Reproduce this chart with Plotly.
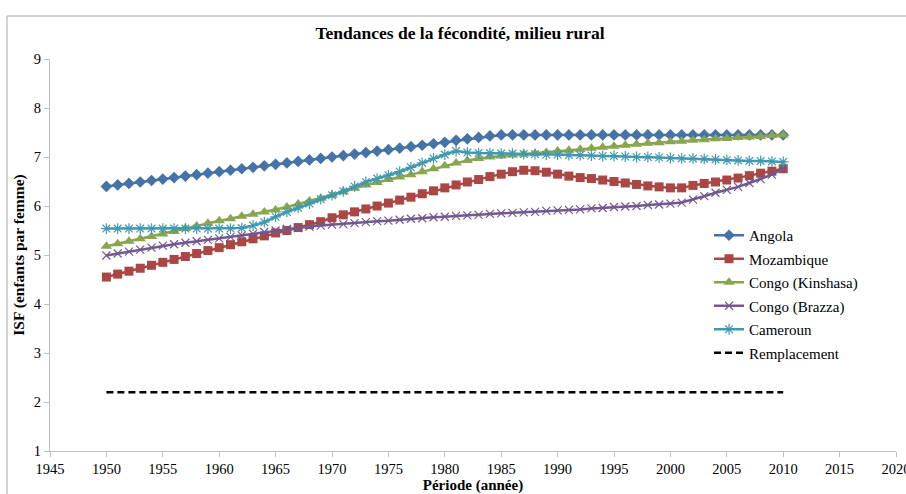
import plotly.graph_objects as go

years = list(range(1950, 2011))

angola = [6.40, 6.43, 6.46, 6.49, 6.52, 6.55, 6.58, 6.61, 6.64, 6.67,
          6.70, 6.73, 6.76, 6.79, 6.82, 6.85, 6.88, 6.91, 6.94, 6.97,
          7.00, 7.03, 7.06, 7.09, 7.12, 7.15, 7.18, 7.21, 7.24, 7.27,
          7.30, 7.34, 7.37, 7.40, 7.43, 7.45, 7.45, 7.45, 7.45, 7.45,
          7.45, 7.45, 7.45, 7.45, 7.45, 7.45, 7.45, 7.45, 7.45, 7.45,
          7.45, 7.45, 7.45, 7.45, 7.45, 7.45, 7.45, 7.45, 7.45, 7.45,
          7.45]

mozambique = [4.55, 4.61, 4.67, 4.73, 4.79, 4.85, 4.91, 4.97, 5.03, 5.09,
              5.15, 5.21, 5.27, 5.33, 5.39, 5.45, 5.50, 5.56, 5.62, 5.68,
              5.76, 5.82, 5.88, 5.94, 6.00, 6.06, 6.12, 6.18, 6.25, 6.31,
              6.37, 6.43, 6.49, 6.54, 6.60, 6.65, 6.70, 6.73, 6.72, 6.69,
              6.65, 6.61, 6.58, 6.56, 6.53, 6.50, 6.47, 6.44, 6.41, 6.39,
              6.37, 6.37, 6.42, 6.46, 6.49, 6.53, 6.57, 6.62, 6.67, 6.71,
              6.76]

congo_kinshasa = [5.18, 5.23, 5.28, 5.33, 5.38, 5.43, 5.48, 5.54, 5.59, 5.65,
                  5.70, 5.74, 5.79, 5.83, 5.88, 5.92, 5.98, 6.04, 6.10, 6.16,
                  6.22, 6.29, 6.36, 6.43, 6.48, 6.54, 6.59, 6.64, 6.70, 6.76,
                  6.82, 6.88, 6.93, 6.97, 7.00, 7.02, 7.04, 7.06, 7.07, 7.09,
                  7.12, 7.14, 7.16, 7.18, 7.20, 7.22, 7.24, 7.26, 7.28, 7.29,
                  7.31, 7.32, 7.34, 7.35, 7.37, 7.38, 7.40, 7.41, 7.42, 7.44,
                  7.45]

congo_brazza = [4.99, 5.03, 5.07, 5.11, 5.15, 5.19, 5.22, 5.25, 5.28, 5.31,
                5.34, 5.37, 5.40, 5.43, 5.47, 5.50, 5.53, 5.55, 5.58, 5.60,
                5.62, 5.63, 5.65, 5.67, 5.69, 5.70, 5.72, 5.74, 5.75, 5.77,
                5.78, 5.80, 5.81, 5.82, 5.84, 5.85, 5.86, 5.87, 5.88, 5.90,
                5.91, 5.92, 5.93, 5.95, 5.96, 5.98, 5.99, 6.00, 6.02, 6.03,
                6.05, 6.07, 6.13, 6.20, 6.27, 6.33, 6.39, 6.47, 6.55, 6.64,
                6.76]

cameroun = [5.54, 5.54, 5.54, 5.54, 5.54, 5.54, 5.54, 5.54, 5.54, 5.54,
            5.54, 5.54, 5.55, 5.60, 5.67, 5.78, 5.88, 5.96, 6.05, 6.14,
            6.22, 6.30, 6.40, 6.49, 6.56, 6.63, 6.70, 6.79, 6.88, 6.97,
            7.05, 7.12, 7.09, 7.08, 7.08, 7.07, 7.07, 7.06, 7.06, 7.05,
            7.05, 7.04, 7.04, 7.03, 7.02, 7.02, 7.01, 7.00, 7.00, 6.99,
            6.98, 6.97, 6.97, 6.96, 6.95, 6.94, 6.93, 6.92, 6.92, 6.91,
            6.90]

remplacement = [2.2] * len(years)

x_ticks = list(range(1945, 2021, 5))
y_ticks = list(range(1, 10))

SERIF = "Liberation Serif, Times New Roman, serif"

fig = go.Figure()

series = [
    ("Angola", angola, "#4572A7", "diamond", 9, dict(width=0)),
    ("Mozambique", mozambique, "#AA4643", "square", 9, dict(width=0)),
    ("Congo (Kinshasa)", congo_kinshasa, "#89A54E", "triangle-up", 10, dict(width=0)),
    ("Congo (Brazza)", congo_brazza, "#71588F", "x-thin-open", 8, dict(width=1.2, color="#9A86B5")),
    ("Cameroun", cameroun, "#4198AF", "asterisk-open", 9, dict(width=1.2, color="#4198AF")),
]

for i, (name, vals, col, sym, size, mline) in enumerate(series):
    marker = dict(symbol=sym, size=size, color=col, line=mline)
    fig.add_trace(go.Scatter(
        x=years, y=vals, name=name, mode="lines+markers",
        line=dict(color=col, width=2.5),
        marker=marker, legendgroup=f"g{i}",
    ))

fig.add_trace(go.Scatter(
    x=years, y=remplacement, name="Remplacement", mode="lines",
    line=dict(color="black", width=2.5, dash="7px,4px"), legendgroup="g5",
))

# plot area in pixels: x 50..896, y 59..451
L, R, T, B = 50, 10, 59, 43
W, H = 906, 494
pw = W - L - R
ph = H - T - B

def px_x(px):
    return (px - L) / pw

def px_y(py):
    return (H - B - py) / ph

fig.update_layout(
    width=W, height=H,
    margin=dict(l=L, r=R, t=T, b=B, autoexpand=False),
    paper_bgcolor="white", plot_bgcolor="white",
    font=dict(family=SERIF, size=14, color="black"),
    title=dict(text="<b>Tendances de la fécondité, milieu rural</b>",
               font=dict(family=SERIF, size=17.5, color="black"),
               x=px_x(460), xref="paper", xanchor="center",
               y=1 - 33 / H, yref="container", yanchor="middle"),
    showlegend=True,
    legend=dict(x=px_x(709), y=px_y(219), xanchor="left", yanchor="top",
                bgcolor="rgba(0,0,0,0)", font=dict(family=SERIF, size=15),
                tracegroupgap=1, itemwidth=30),
    xaxis=dict(range=[1945, 2020], tickvals=x_ticks, ticktext=[str(v) for v in x_ticks],
               showgrid=False, zeroline=False, showline=True, linecolor="#BFBFBF",
               linewidth=1, ticks="outside", ticklen=5, tickcolor="#BFBFBF",
               ticklabeloverflow="allow", automargin=False,
               tickfont=dict(family=SERIF, size=14.5),
               title=dict(text="<b>Période (année)</b>",
                          font=dict(family=SERIF, size=15), standoff=3)),
    yaxis=dict(range=[1, 9], tickvals=y_ticks, showgrid=False, zeroline=False,
               showline=True, linecolor="#BFBFBF", linewidth=1, ticks="outside",
               ticklen=5, tickcolor="#BFBFBF", tickfont=dict(family=SERIF, size=14.5),
               automargin=False,
               title=dict(text="<b>ISF (enfants par femme)</b>",
                          font=dict(family=SERIF, size=15.5), standoff=5)),
    shapes=[
        dict(type="line", xref="paper", yref="paper",
             x0=px_x(7), x1=px_x(7), y0=px_y(16), y1=px_y(494),
             line=dict(color="#A6A6A6", width=1)),
        dict(type="line", xref="paper", yref="paper",
             x0=px_x(7), x1=px_x(906), y0=px_y(16), y1=px_y(16),
             line=dict(color="#A6A6A6", width=1)),
    ],
)

fig.write_html("out.html", config={"displayModeBar": False},
               post_script="document.body.style.margin='0';document.body.style.padding='0';")
